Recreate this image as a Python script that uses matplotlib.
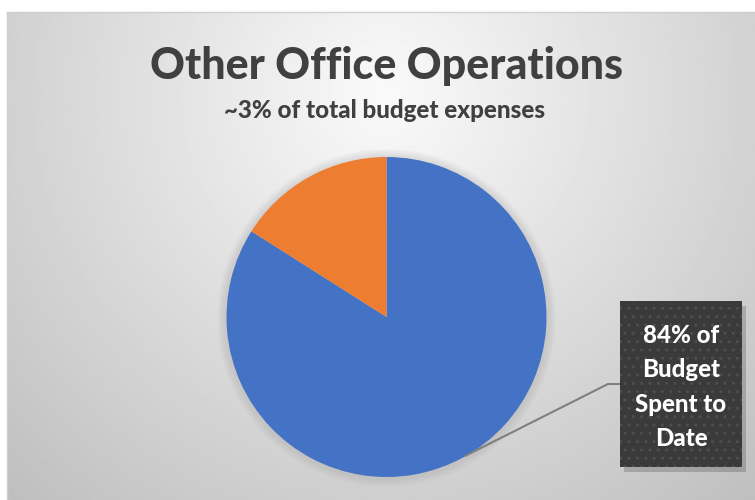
import numpy as np
import matplotlib.pyplot as plt
from matplotlib.patches import Rectangle, Circle

labels = ["Budget Spent to Date", "Remaining Budget"]
shares = [84, 16]
colors = ["#4472C4", "#ED7D31"]
title = "Other Office Operations"
subtitle = "~3% of total budget expenses"
callout = "84% of\nBudget\nSpent to\nDate"

W, H = 755, 500
fig = plt.figure(figsize=(W / 100, H / 100), dpi=100)
fig.patch.set_facecolor("white")
ax = fig.add_axes([0, 0, 1, 1])

# soft radial background of the chart area
x0, x1, y0, y1 = 7, W, 0, H - 12
gx, gy = np.meshgrid(np.linspace(x0, x1, 400), np.linspace(y1, y0, 300))
d = np.hypot(gx - 385, gy - (H - 95)) / 540.0
shade = np.clip(250 - 58 * d, 190, 252) / 255.0
ax.imshow(shade, cmap="gray", vmin=0, vmax=1, extent=(x0, x1, y0, y1),
          aspect="auto", zorder=0, interpolation="bilinear")
ax.plot([x0, x1], [y1, y1], color="#cfcfcf", lw=1, zorder=1)
ax.plot([x0, x0], [y0, y1], color="#cfcfcf", lw=1, zorder=1)

cx, cy, r = 386.5, H - 317, 160

# faint shadow around the pie
for k in range(8):
    ax.add_patch(Circle((cx, cy - 1), r + 9 - k, color="#9a9a9a",
                        alpha=0.035, lw=0, zorder=2))

ax.pie(shares, colors=colors, startangle=90, counterclock=False,
       center=(cx, cy), radius=r, wedgeprops=dict(linewidth=0, zorder=3))

# callout box with dotted texture
bx, by, bw, bh = 620, H - 467, 122, 166
ax.add_patch(Rectangle((bx + 4, by - 5), bw, bh, color="#000000", alpha=0.18,
                       lw=0, zorder=4))
ax.add_patch(Rectangle((bx, by), bw, bh, facecolor="#3a3a3a", lw=0, zorder=5))
ax.add_patch(Rectangle((bx, by), bw, bh, facecolor="none", edgecolor="#4e4e4e",
                       hatch="..", lw=0, zorder=5))
ax.text(bx + bw / 2, by + bh / 2 - 3, callout, color="white", fontsize=17.3,
        fontweight="black", family="Lato", ha="center", va="center",
        linespacing=1.6, zorder=6)

# leader line from the blue slice to the box
ax.plot([465, 608, bx], [H - 456, H - 384, H - 384], color="#7f7f7f",
        lw=1.5, zorder=4, solid_capstyle="butt")

ax.text(387, H - 66, title, color="#404040", fontsize=31, fontweight="black",
        family="Lato", ha="center", va="center")
ax.text(385, H - 111, subtitle, color="#404040", fontsize=17.4,
        fontweight="black", family="Lato", ha="center", va="center")

ax.set_xlim(0, W)
ax.set_ylim(0, H)
ax.set_aspect("auto")
ax.axis("off")

fig.savefig("out.png", dpi=100)
